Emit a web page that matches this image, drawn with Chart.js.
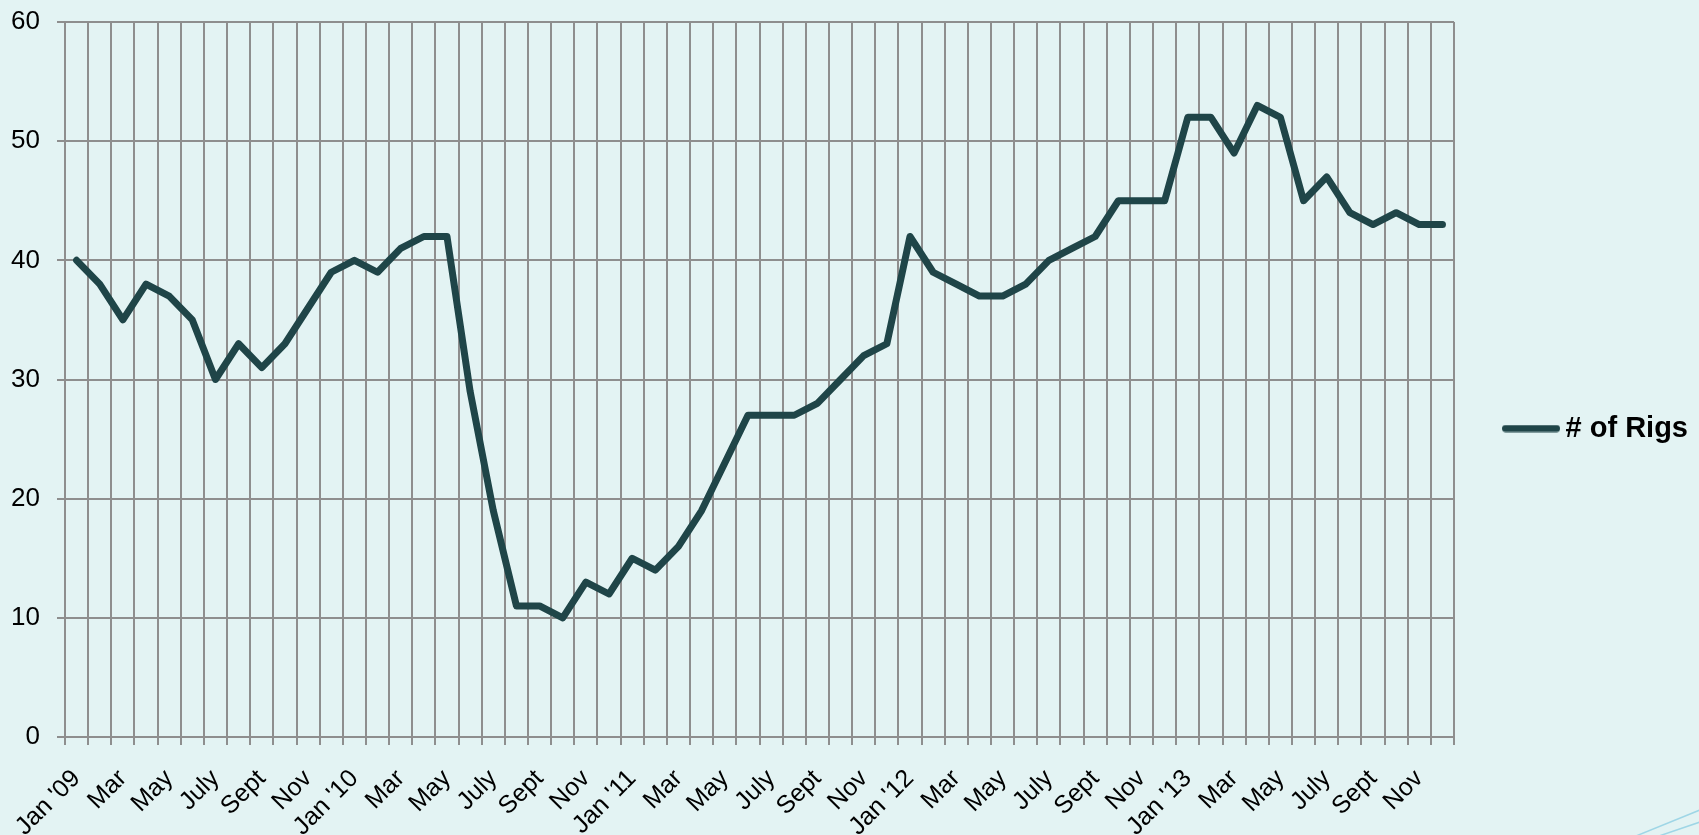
<!DOCTYPE html>
<html>
<head>
<meta charset="utf-8">
<title># of Rigs</title>
<script src="https://cdn.jsdelivr.net/npm/chart.js@4.4.0/dist/chart.umd.min.js"></script>
<style>
  html, body { margin: 0; padding: 0; background: #e3f3f3; }
  #wrap { position: relative; width: 1699px; height: 835px; overflow: hidden; }
  #decor { position: absolute; left: 0; top: 0; pointer-events: none; }
</style>
</head>
<body>
<div id="wrap">
  <canvas id="rigsChart" width="1699" height="835"></canvas>
  <svg id="decor" width="1699" height="835">
    <line x1="1636" y1="836" x2="1700" y2="810" stroke="#9fd6e6" stroke-width="1.5"/>
    <line x1="1659" y1="836" x2="1700" y2="822" stroke="#9fd6e6" stroke-width="1.5"/>
  </svg>
</div>
<script>
// month labels, Jan gets the year
const months = ['Jan', 'Feb', 'Mar', 'Apr', 'May', 'June', 'July', 'Aug', 'Sept', 'Oct', 'Nov', 'Dec'];
const years = ["'09", "'10", "'11", "'12", "'13"];

// rig counts per month
const rigs2009 = [40, 38, 35, 38, 37, 35, 30, 33, 31, 33, 36, 39];
const rigs2010 = [40, 39, 41, 42, 42, 29, 19, 11, 11, 10, 13, 12];
const rigs2011 = [15, 14, 16, 19, 23, 27, 27, 27, 28, 30, 32, 33];
const rigs2012 = [42, 39, 38, 37, 37, 38, 40, 41, 42, 45, 45, 45];
const rigs2013 = [52, 52, 49, 53, 52, 45, 47, 44, 43, 44, 43, 43];

const yTicks = [0, 10, 20, 30, 40, 50, 60];

let labels = [];
years.forEach(function(yr) {
    months.forEach(function(m, i) {
        labels.push(i === 0 ? m + ' ' + yr : m);
    });
});
const rigs = [].concat(rigs2009, rigs2010, rigs2011, rigs2012, rigs2013);

const gridColor = '#8e8e8e';
const lineColor = '#1f4548';
const fontFamily = 'Arial, "Liberation Sans", sans-serif';

// legend swatch: a short thick line with round ends
const swatch = document.createElement('canvas');
swatch.width = 58;
swatch.height = 8;
const sctx = swatch.getContext('2d');
sctx.strokeStyle = lineColor;
sctx.lineWidth = 7;
sctx.lineCap = 'round';
sctx.beginPath();
sctx.moveTo(3.5, 4);
sctx.lineTo(54.5, 4);
sctx.stroke();

const ctx = document.getElementById('rigsChart').getContext('2d');
const chart = new Chart(ctx, {
    type: 'line',
    data: {
        labels: labels,
        datasets: [{
            label: '# of Rigs',
            data: rigs,
            borderColor: lineColor,
            backgroundColor: lineColor,
            borderWidth: 7,
            borderCapStyle: 'round',
            borderJoinStyle: 'round',
            pointRadius: 0,
            pointHoverRadius: 0,
            tension: 0,
            fill: false
        }]
    },
    options: {
        responsive: false,
        animation: false,
        layout: {
            padding: { top: 22, right: 1, bottom: 0, left: 0 }
        },
        plugins: {
            tooltip: { enabled: false },
            legend: {
                position: 'right',
                labels: {
                    usePointStyle: true,
                    pointStyle: swatch,
                    pointStyleWidth: 40,
                    padding: 57,
                    color: '#000',
                    font: { family: fontFamily, size: 29, weight: 'bold' }
                }
            }
        },
        scales: {
            x: {
                offset: true,
                grid: {
                    offset: true,
                    color: gridColor,
                    lineWidth: 2,
                    tickLength: 8
                },
                border: { color: gridColor, width: 2 },
                ticks: {
                    autoSkip: false,
                    maxRotation: 45,
                    minRotation: 45,
                    padding: 19,
                    color: '#000',
                    font: { family: fontFamily, size: 25 },
                    callback: function(value, index) {
                        return index % 2 === 0 ? this.getLabelForValue(value) : '';
                    }
                },
                afterFit: function(scale) {
                    scale.height = 98;
                    scale.paddingLeft = 0;
                    scale.paddingRight = 0;
                }
            },
            y: {
                min: yTicks[0],
                max: yTicks[yTicks.length - 1],
                grid: {
                    color: gridColor,
                    lineWidth: 2,
                    tickLength: 8
                },
                border: { color: gridColor, width: 2 },
                ticks: {
                    stepSize: 10,
                    padding: 17,
                    color: '#000',
                    font: { family: fontFamily, size: 26 }
                },
                afterFit: function(scale) {
                    scale.width = 65;
                    scale.paddingTop = 0;
                    scale.paddingBottom = 0;
                }
            }
        }
    }
});
</script>
</body>
</html>
